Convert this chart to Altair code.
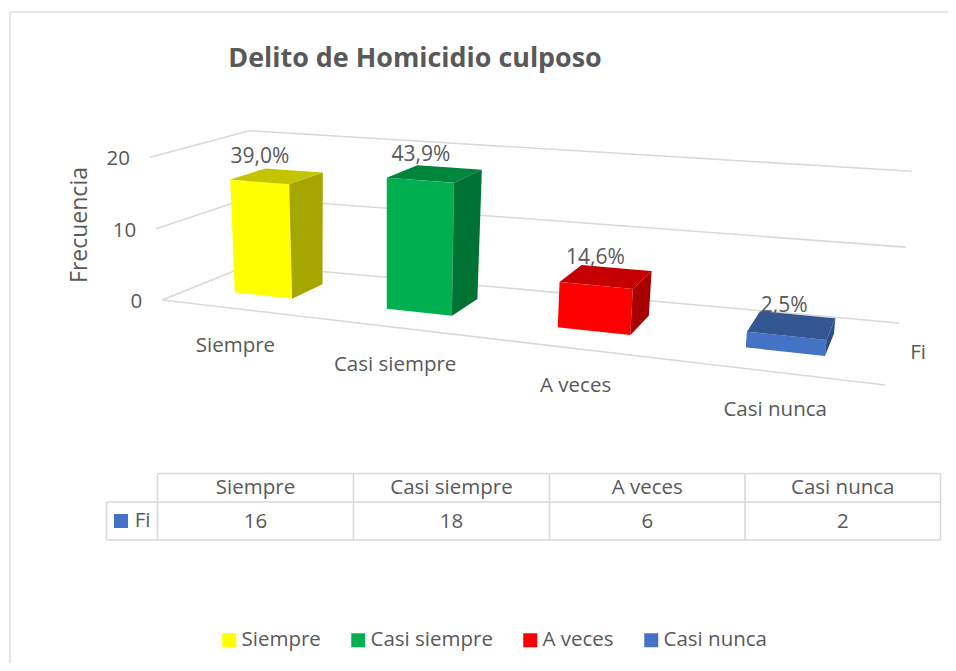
import numpy as np
import pandas as pd
import altair as alt

# ---- chart values ----
categories = ["Siempre", "Casi siempre", "A veces", "Casi nunca"]
counts = [16, 18, 6, 2]
percents = ["39,0%", "43,9%", "14,6%", "2,5%"]
value_ticks = [0, 10, 20]
series_name = "Fi"
title_text = "Delito de Homicidio culposo"
axis_title = "Frecuencia"
front_colors = ["#FFFF00", "#00B050", "#FF0000", "#4472C4"]
top_colors = ["#C4C400", "#00853C", "#C40000", "#345794"]
side_colors = ["#A6A600", "#007233", "#A60000", "#2E4E88"]

FONT = "Open Sans"
TEXT = "#595959"
GRID = "#D9D9D9"
W, H = 940, 655
OX, OY = 8, 8  # page margin

# ---- perspective of the 3-D box (front-left, front-right, back-right, back-left) ----
floor_quad = [(162.3, 300), (885, 385), (899.3, 323), (249, 265)]
roof_quad = [(150, 157.3), (903, 219), (911.7, 171.3), (249.3, 130.7)]
v_max = 20
# where each column sits along the category direction of the box
bar_spans = [(0.0865, 0.1955), (0.360, 0.463), (0.6155, 0.7105), (0.848, 0.934)]
D0, D1 = 0.32, 0.70


def homography(q):
    (x0, y0), (x1, y1), (x2, y2), (x3, y3) = q
    dx1, dx2, sx = x1 - x2, x3 - x2, x0 - x1 + x2 - x3
    dy1, dy2, sy = y1 - y2, y3 - y2, y0 - y1 + y2 - y3
    d = dx1 * dy2 - dx2 * dy1
    g = (sx * dy2 - dx2 * sy) / d
    h = (dx1 * sy - sx * dy1) / d
    return np.array([
        [x1 - x0 + g * x1, x3 - x0 + h * x3, x0],
        [y1 - y0 + g * y1, y3 - y0 + h * y3, y0],
        [g, h, 1.0],
    ])


HF, HR = homography(floor_quad), homography(roof_quad)


def project(u, d, v):
    def ap(M):
        p = M @ np.array([u, d, 1.0])
        return p[:2] / p[2]
    a, b = ap(HF), ap(HR)
    t = v / v_max
    return tuple(a + (b - a) * t)


def stations(poly):
    """Express a convex polygon as x / y / y2 rows for an area mark."""
    pts = list(poly)
    xs = sorted({round(p[0], 3) for p in pts})
    rows = []
    for x in xs:
        ys = []
        for (ax, ay), (bx, by) in zip(pts, pts[1:] + pts[:1]):
            ax, bx = round(ax, 3), round(bx, 3)
            if min(ax, bx) <= x <= max(ax, bx):
                if ax == bx:
                    ys += [ay, by]
                else:
                    ys.append(ay + (by - ay) * (x - ax) / (bx - ax))
        rows.append((x, min(ys), max(ys)))
    return rows


face_rows = []
for cat, val, (u0, u1) in zip(categories, counts, bar_spans):
    c = project
    faces = {
        cat: [c(u0, D0, val), c(u1, D0, val), c(u1, D0, 0), c(u0, D0, 0)],
        cat + " top": [c(u0, D0, val), c(u0, D1, val), c(u1, D1, val), c(u1, D0, val)],
        cat + " side": [c(u1, D0, val), c(u1, D1, val), c(u1, D1, 0), c(u1, D0, 0)],
    }
    for key, poly in faces.items():
        for x, y, y2 in stations(poly):
            face_rows.append({"face": key, "x": x, "y": y, "y2": y2})

faces_df = pd.DataFrame(face_rows)
domain = categories + [k + " top" for k in categories] + [k + " side" for k in categories]
rng = front_colors + top_colors + side_colors

X = alt.X("x:Q", scale=alt.Scale(domain=[OX, OX + W], nice=False, zero=False), axis=None)
Y = alt.Y("y:Q", scale=alt.Scale(domain=[OY + H, OY], nice=False, zero=False), axis=None)

# ---- gridlines ----
line_rows = []
for v in value_ticks:
    fl, bl, br = project(0, 0, v), project(0, 1, v), project(1, 1, v)
    line_rows.append({"x": fl[0], "y": fl[1], "x2": bl[0], "y2": bl[1]})
    line_rows.append({"x": bl[0], "y": bl[1], "x2": br[0], "y2": br[1]})
a, b = project(0, 0, 0), project(1, 0, 0)
line_rows.append({"x": a[0], "y": a[1], "x2": b[0], "y2": b[1]})
grid = alt.Chart(pd.DataFrame(line_rows)).mark_rule(color=GRID, strokeWidth=1.6).encode(
    x=X, y=Y, x2="x2:Q", y2="y2:Q")

# ---- outer frame and data table ----
col_x = [157.5, 353.5, 549.5, 745, 940.5]
row_y = [473.5, 502, 540]
left_x = 106.5
t_rows = []
for xv in col_x:
    t_rows.append({"x": xv, "y": row_y[0], "x2": xv, "y2": row_y[2]})
t_rows.append({"x": left_x, "y": row_y[1], "x2": left_x, "y2": row_y[2]})
t_rows.append({"x": col_x[0], "y": row_y[0], "x2": col_x[-1], "y2": row_y[0]})
t_rows.append({"x": left_x, "y": row_y[1], "x2": col_x[-1], "y2": row_y[1]})
t_rows.append({"x": left_x, "y": row_y[2], "x2": col_x[-1], "y2": row_y[2]})
table = alt.Chart(pd.DataFrame(t_rows)).mark_rule(color=GRID, strokeWidth=1.6).encode(
    x=X, y=Y, x2="x2:Q", y2="y2:Q")

frame_rows = [
    {"x": 10, "y": 12, "x2": 948, "y2": 12},
    {"x": 10, "y": 12, "x2": 10, "y2": 663},
]
frame = alt.Chart(pd.DataFrame(frame_rows)).mark_rule(color="#E0E0E0", strokeWidth=1.6).encode(
    x=X, y=Y, x2="x2:Q", y2="y2:Q")

bars = alt.Chart(faces_df).mark_area(opacity=1, interpolate="linear", line=False).encode(
    x=X, y=Y, y2="y2:Q",
    color=alt.Color("face:N", scale=alt.Scale(domain=domain, range=rng),
                    legend=alt.Legend(
                        values=categories, title=None, orient="none", legendX=211, legendY=622,
                        direction="horizontal", columns=4, gridAlign="none",
                        symbolType="square", symbolSize=196, symbolOpacity=1, symbolStrokeWidth=0,
                        labelFont=FONT, labelFontSize=20.5, labelColor=TEXT, labelOffset=2,
                        columnPadding=27, padding=0, labelLimit=300)),
)

# ---- texts ----
txt = []
def put(x, y, text, align="center", size=20.5, weight="normal", angle=0):
    txt.append({"x": x, "y": y, "t": text, "align": align, "size": size,
                "weight": weight, "angle": angle})

for i, (cat, val, pct, (u0, u1)) in enumerate(zip(categories, counts, percents, bar_spans)):
    uc = (u0 + u1) / 2
    top = np.mean([project(u, d, val) for u in (u0, u1) for d in (D0, D1)], axis=0)
    put(top[0] - 17 + 3 * i, top[1] - 19, pct, size=21)
    base = project(uc, 0, 0)
    put(base[0] + 1, base[1] + 38, cat)
    put((col_x[i] + col_x[i + 1]) / 2, (row_y[0] + row_y[1]) / 2, cat)
    put((col_x[i] + col_x[i + 1]) / 2, (row_y[1] + row_y[2]) / 2 + 1, str(val))
for v in value_ticks:
    p = project(0, 0, v)
    put(p[0] - 20, p[1] + 2, str(v), align="right")
put(918, 353, series_name)
put(142.5, 521, series_name)
put(415, 59, title_text, size=26.9, weight="bold")
put(80, 225, axis_title, size=23, angle=270)
text_df = pd.DataFrame(txt)

text_layers = []
for (al, sz, wt, an), g in text_df.groupby(["align", "size", "weight", "angle"]):
    text_layers.append(
        alt.Chart(g).mark_text(font=FONT, color=TEXT, align=al, baseline="middle",
                               fontSize=float(sz), fontWeight=wt, angle=int(an)).encode(
            x=X, y=Y, text="t:N"))

# table key swatch for the series
swatch = alt.Chart(pd.DataFrame({"x": [121], "y": [521]})).mark_square(
    size=196, color="#4472C4", opacity=1).encode(x=X, y=Y)

chart = alt.layer(frame, grid, bars, table, swatch, *text_layers).properties(
    width=W, height=H, padding=0, autosize=alt.AutoSizeParams(type="none"),
    background="white",
).configure_view(stroke=None)

chart.save("out.html", embed_options={"renderer": "svg", "actions": False})
